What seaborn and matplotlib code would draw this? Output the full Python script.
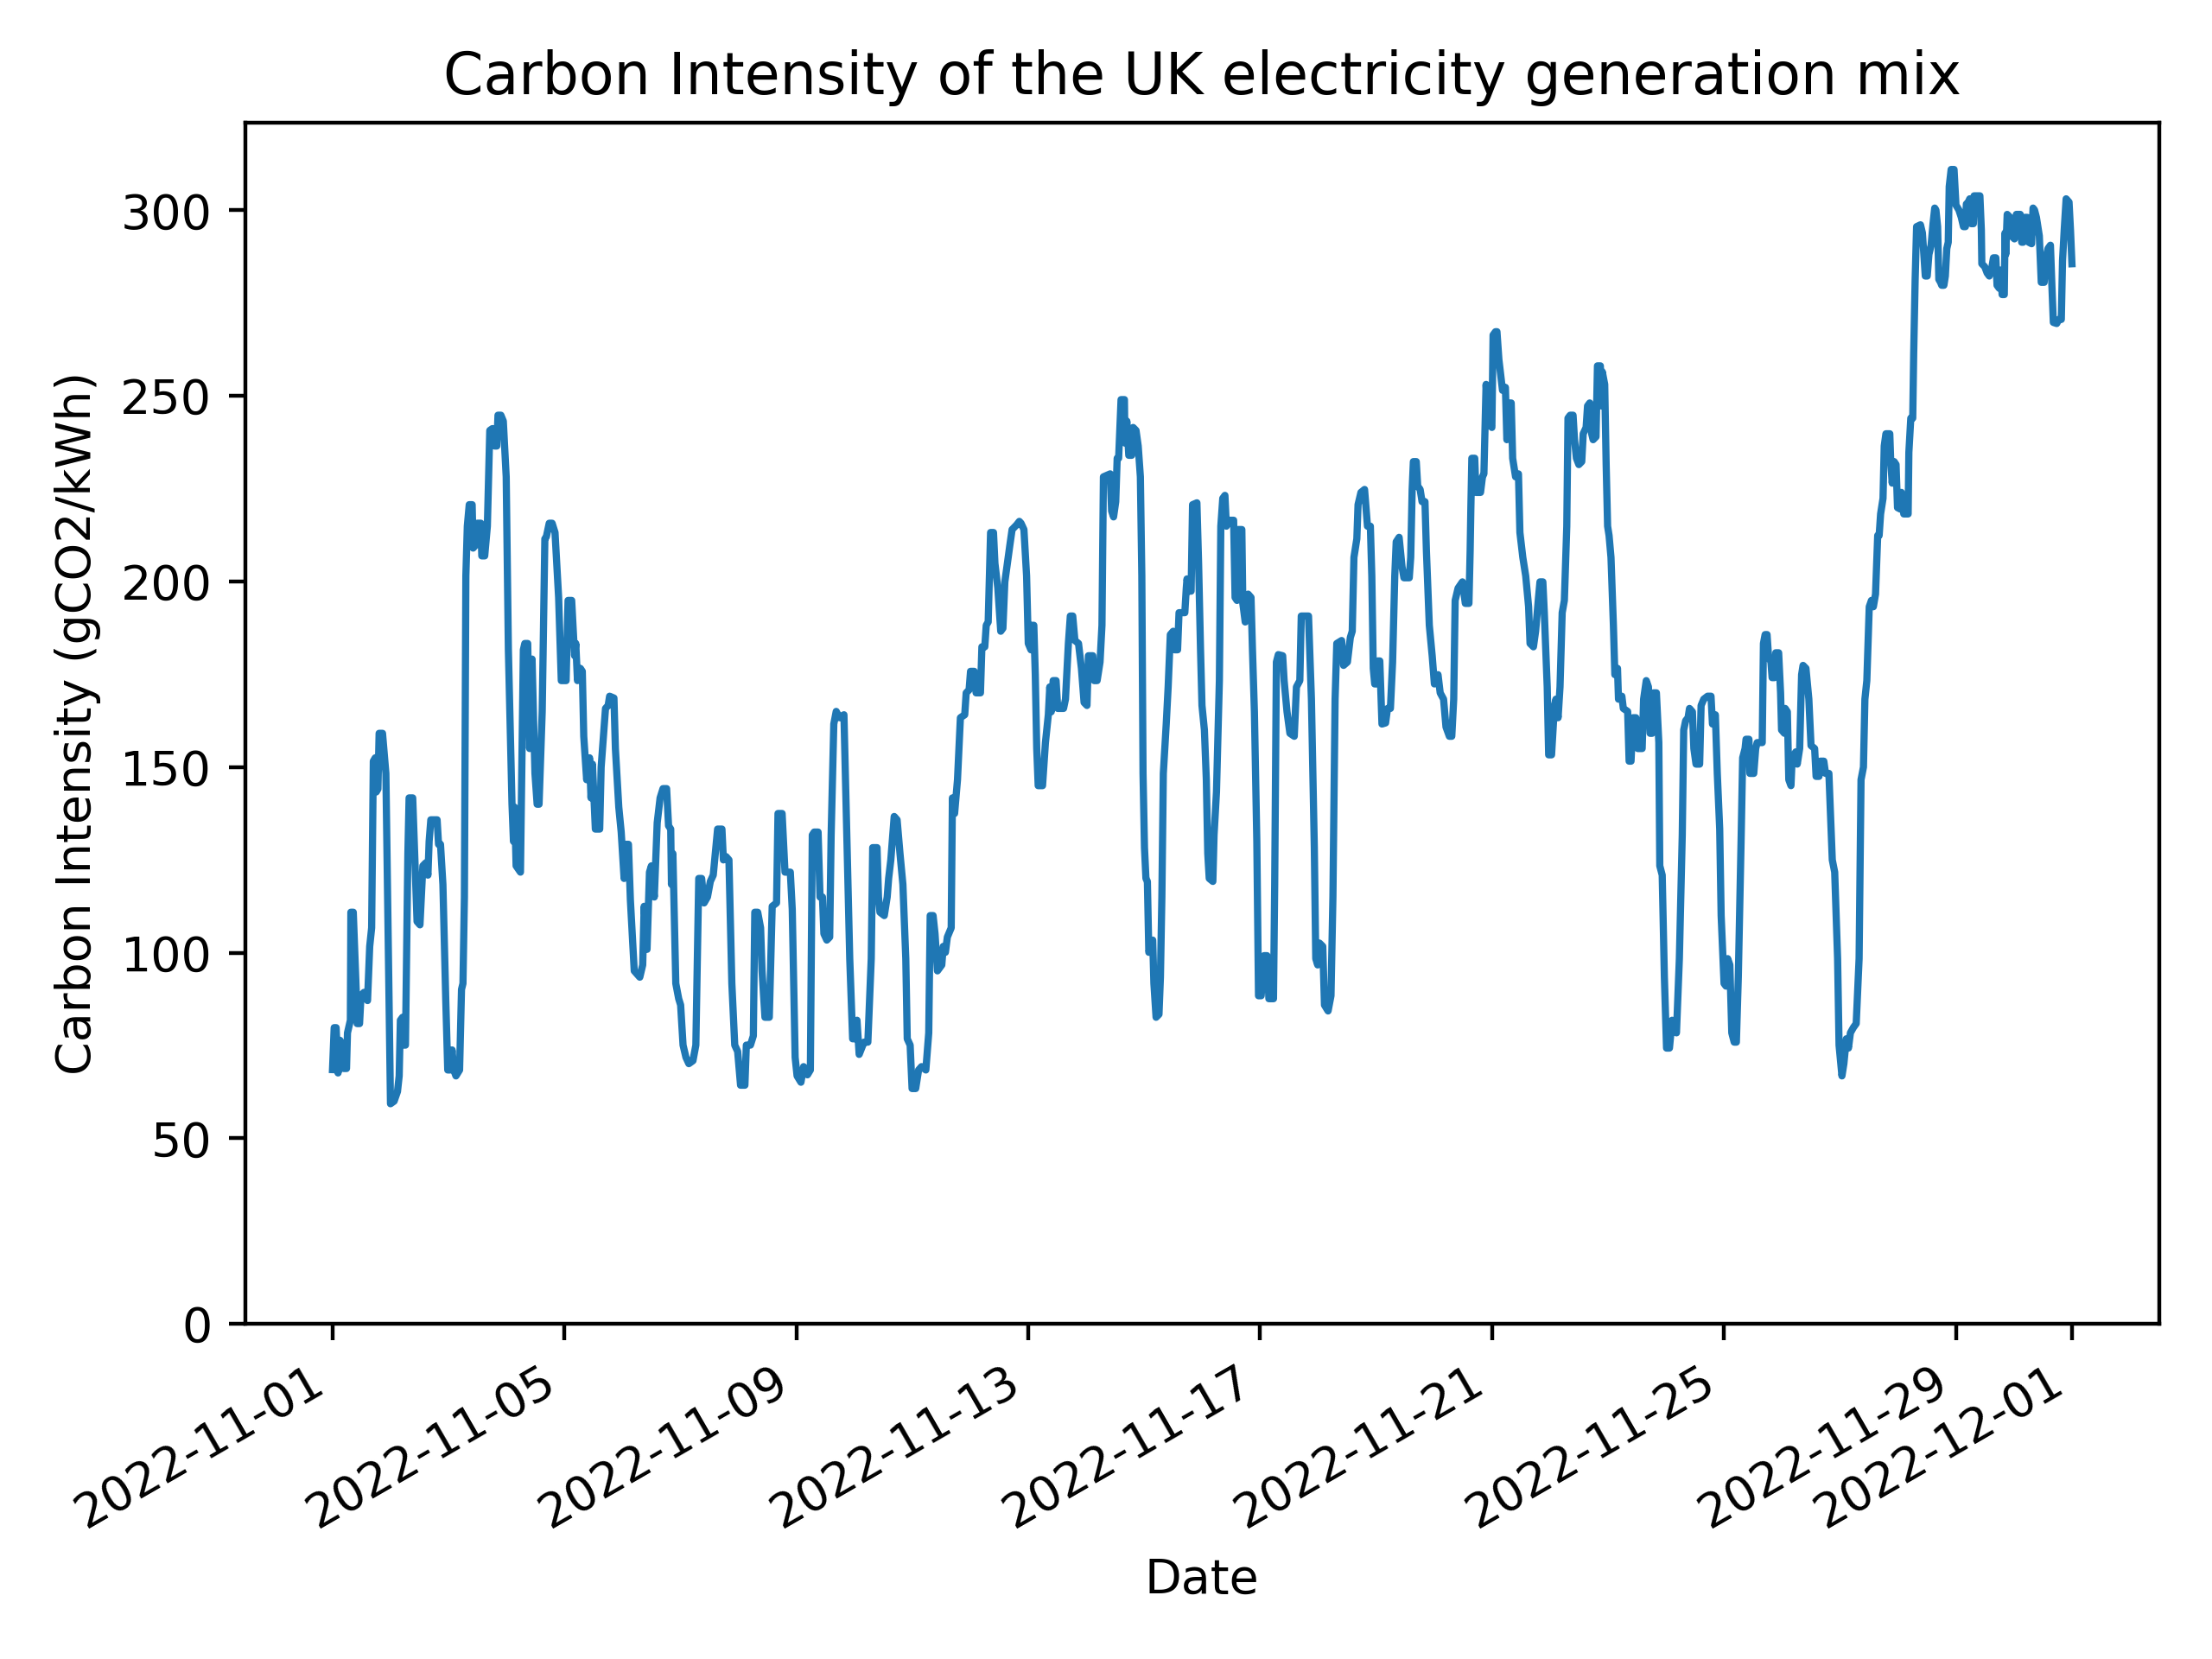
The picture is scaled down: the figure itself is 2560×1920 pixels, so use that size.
import seaborn as sns
import pandas as pd
import numpy as np
import matplotlib.pyplot as plt

# hours since 2022-11-01 00:00 and carbon intensity (gCO2/kWh)
part1_h = [0, 0.7, 1.5, 2.3, 3.1, 4.0, 4.6, 5.8, 6.2, 7.4, 7.6, 8.6, 9.8, 10.2, 11.2, 11.8,
           13.0, 14.5, 15.4, 16.2, 16.9, 17.7, 18.1, 18.8, 19.3, 20.7, 22.1, 24.0, 25.5, 26.9,
           27.6, 28.1, 29.0, 29.6, 30.2, 31.2, 31.7, 33.2, 34.0, 35.0, 36.2, 37.4, 38.6, 39.5,
           40.0, 40.7, 43.3, 43.9, 44.7, 45.7, 46.9, 47.7, 48.7, 49.5, 50.2, 51.1, 52.6, 53.4,
           54.0, 54.6, 55.2, 55.8, 56.6, 57.8, 58.2, 59.4, 59.9, 61.4, 61.8, 63.0, 64.1, 65.1,
           66.2, 67.1, 68.0, 68.5, 69.7, 70.7, 71.9, 72.8, 74.3, 74.9, 75.4, 76.0, 77.8, 79.0,
           79.6, 80.8, 81.6, 82.6, 83.8, 84.7, 85.5, 86.8, 87.9, 88.5, 89.7, 90.9]
part1_ci = [68.5, 79.8, 79.8, 67.6, 76.4, 75.0, 68.8, 68.8, 78.4, 81.8, 110.9, 110.9, 90.1, 80.9,
            80.9, 88.4, 89.3, 87.1, 101.7, 106.7, 151.6, 152.5, 143.3, 144.1, 159.1, 159.1,
            148.3, 59.3, 60.0, 62.6, 66.8, 81.8, 82.6, 75.1, 75.1, 126.7, 141.7, 141.7, 126.7,
            108.4, 107.5, 123.4, 124.2, 120.9, 130.0, 135.8, 135.8, 129.2, 129.2, 118.4, 86.8,
            68.4, 68.4, 73.8, 68.4, 66.8, 68.4, 90.1, 91.7, 115.0, 201.5, 214.9, 220.7, 220.7,
            209.0, 209.9, 215.7, 215.7, 206.9, 206.9, 214.9, 240.7, 241.2, 236.5, 236.5, 244.8,
            244.8, 243.2, 228.2, 181.6, 140.0, 130.0, 139.2, 123.4, 121.7, 181.6, 183.3, 183.3,
            155.0, 179.1, 148.3, 140.0, 140.0, 165.0, 211.5, 212.0, 215.7, 215.7]

part2_h = [92.1, 93.6, 94.7, 96.7, 97.5, 99.0, 100.2, 100.7, 101.4, 102.6, 103.4, 104.0, 105.2,
           106.4, 107.0, 107.6, 108.8, 110.6, 111.2, 113.0, 114.1, 114.7, 116.5, 117.1, 118.5,
           119.5, 120.7, 121.3, 122.5, 123.3, 124.0, 124.9, 127.2, 128.4, 129.0, 130.2, 131.2,
           132.0, 133.2, 134.4, 135.6, 136.8, 138.3, 139.1, 140.0, 140.3, 140.9, 142.1, 143.3,
           144.1, 145.1, 146.3, 147.5, 149.2, 150.4, 151.6, 152.8, 153.8, 155.2, 156.4, 157.6,
           158.2, 159.4, 161.2, 161.8, 162.9, 164.1, 165.3, 166.5, 167.7, 168.9, 170.7, 171.3,
           173.0, 174.2, 174.8, 176.0, 177.2, 177.8, 179.0, 180.8, 182.0, 183.8, 184.4, 186.1,
           187.3]
part2_ci = [213.2, 195.7, 173.3, 173.3, 194.9, 194.9, 180.0, 183.3, 173.3, 176.6, 175.8, 158.3,
            146.6, 152.5, 141.7, 150.8, 133.3, 133.3, 150.0, 165.8, 166.6, 169.1, 168.6, 155.0,
            139.2, 132.5, 120.0, 129.2, 129.2, 114.2, 105.9, 95.1, 93.4, 96.7, 112.5, 100.9,
            121.7, 123.4, 115.0, 135.0, 141.7, 144.2, 144.2, 134.2, 133.3, 118.4, 126.7, 91.7,
            87.6, 85.9, 75.1, 71.8, 70.1, 70.9, 75.1, 120.0, 120.0, 113.4, 115.0, 119.2, 120.9,
            125.0, 133.3, 133.3, 125.0, 125.9, 125.0, 91.7, 75.1, 73.4, 64.3, 64.3, 75.1, 75.1,
            77.6, 110.9, 110.9, 106.7, 95.1, 82.6, 82.6, 112.5, 113.4, 137.5, 137.5, 121.7]

part3_h = [189.5, 190.3, 190.9, 191.5, 192.3, 193.9, 195.0, 196.6, 197.8, 198.6, 199.4, 201.0,
           201.8, 202.8, 203.4, 204.6, 205.8, 206.4, 207.5, 208.5, 209.9, 211.7, 212.9, 214.1,
           215.3, 216.5, 217.1, 218.0, 220.0, 221.6, 223.0, 223.6, 225.4, 226.0, 226.6, 228.4,
           229.6, 230.2, 231.1, 232.5, 233.7, 234.9, 236.1, 237.3, 237.9, 239.1, 239.9, 241.4,
           242.6, 243.8, 245.6, 246.8, 247.4, 248.6, 249.4, 250.4, 252.2, 252.8, 253.7, 254.5,
           256.1, 256.6, 257.5, 258.7, 259.9, 261.7, 262.3, 263.5, 264.1, 265.6, 266.4, 268.2,
           268.8, 270.0, 270.6, 271.4, 272.4, 273.6, 274.2, 275.4, 276.6, 277.5, 278.3, 279.5,
           280.4, 281.3, 283.1, 284.3]
part3_ci = [121.7, 111.7, 91.7, 71.8, 66.8, 65.1, 69.3, 67.1, 68.4, 131.7, 132.5, 132.5, 115.0,
            115.0, 105.1, 103.4, 104.2, 131.7, 161.6, 165.0, 163.3, 164.1, 131.7, 98.4, 76.8,
            76.8, 81.8, 72.6, 75.9, 75.9, 98.4, 128.3, 128.3, 115.0, 110.9, 110.0, 115.0, 120.0,
            125.0, 136.7, 135.8, 126.7, 118.4, 98.4, 76.8, 75.1, 63.4, 63.4, 68.4, 69.3, 68.4,
            78.4, 110.0, 110.0, 105.1, 95.1, 96.7, 101.7, 100.1, 104.2, 106.7, 141.7, 137.5,
            146.6, 163.3, 164.1, 170.0, 170.8, 175.8, 175.8, 170.0, 170.0, 182.4, 182.4, 188.2,
            189.1, 213.2, 213.2, 204.9, 198.2, 186.6, 187.4, 199.9, 205.7, 209.9, 214.0, 215.2,
            216.2]

part4_h = [285.0, 286.2, 287.3, 288.0, 289.1, 289.5, 290.3, 290.9, 291.5, 292.1, 293.9, 295.1,
           296.3, 296.9, 297.5, 298.3, 299.5, 300.2, 302.6, 303.4, 304.6, 305.4, 306.4, 307.3,
           308.8, 310.0, 311.1, 312.3, 312.9, 314.7, 315.3, 316.5, 317.7, 318.5, 319.1, 321.9,
           322.5, 323.3, 324.2, 324.8, 325.4, 326.4, 327.8, 328.0, 328.8, 329.6, 330.8, 331.4,
           332.6, 333.5, 334.4, 335.0, 335.5, 336.1, 336.7, 337.3, 337.9, 339.5, 340.0, 340.9,
           342.1, 342.7, 343.3, 343.9, 345.1, 345.9, 346.8, 348.0, 348.6, 349.8, 350.4, 352.8,
           353.4, 353.7, 354.6, 355.4, 356.0, 357.8, 358.5, 359.3, 359.9, 360.9, 361.7, 362.3,
           362.9, 364.4, 364.9, 365.9, 367.1, 367.7, 368.5, 369.4, 370.0, 371.2, 373.0, 373.6,
           374.4, 374.8, 376.4, 376.8, 377.8, 379.0, 380.2, 380.8, 381.6, 382.6]
part4_ci = [215.7, 214.0, 201.5, 183.3, 181.6, 188.2, 188.2, 174.9, 155.0, 145.0, 145.0, 156.6,
            164.1, 171.6, 164.9, 173.3, 173.3, 165.8, 165.8, 168.3, 183.3, 190.7, 190.7, 184.1,
            183.3, 176.6, 167.4, 166.6, 180.0, 180.0, 173.3, 173.3, 178.3, 188.2, 228.2, 229.0,
            219.0, 217.4, 221.5, 233.2, 233.2, 249.0, 249.0, 237.3, 243.2, 234.0, 234.0, 241.5,
            240.7, 236.5, 228.2, 201.5, 148.3, 128.3, 120.0, 119.2, 100.1, 103.4, 91.7, 82.6,
            83.4, 93.4, 115.0, 148.3, 161.6, 171.6, 185.7, 186.6, 181.6, 181.6, 191.6, 191.6,
            198.2, 200.7, 197.4, 197.4, 220.7, 221.2, 204.9, 181.6, 166.6, 160.0, 146.6, 126.7,
            120.0, 119.2, 131.7, 143.3, 173.3, 214.9, 222.4, 223.2, 214.9, 216.5, 216.5, 195.7,
            194.9, 214.0, 214.0, 194.1, 189.1, 196.6, 195.7, 181.6, 164.9, 130.0]

part5_h = [383.3, 384.4, 385.6, 386.8, 387.6, 389.5, 390.0, 390.7, 391.5, 393.3, 393.9, 395.1,
           396.3, 398.1, 399.0, 400.4, 401.0, 404.0, 405.2, 406.4, 407.0, 407.8, 408.5, 409.9,
           410.6, 412.1, 413.3, 414.1, 415.0, 415.7, 417.7, 418.5, 420.1, 421.3, 422.1, 422.8,
           424.0, 424.5, 425.7, 427.2, 428.4, 429.6, 430.2, 430.8, 431.4, 432.0, 432.6, 433.5,
           434.4, 435.9, 436.7, 437.9, 438.8, 439.7, 440.3, 441.5, 442.7, 443.5, 445.7, 446.3,
           446.9, 447.4, 448.6, 449.2, 450.2, 451.0, 452.2, 452.8, 454.0, 455.2, 456.1, 457.6,
           458.5, 459.9, 460.9, 462.3, 463.3, 464.1, 464.7, 465.9, 467.7, 468.9, 470.4, 470.9,
           471.2, 471.6, 472.8, 473.3, 475.2, 476.0, 476.6, 477.5, 478.4, 479.9, 480.4, 481.4]
part5_ci = [88.4, 88.4, 99.2, 99.2, 87.6, 87.6, 118.4, 178.3, 180.3, 180.0, 173.3, 164.9, 159.1,
            158.3, 171.6, 173.3, 190.7, 190.7, 168.3, 128.3, 98.4, 96.7, 102.6, 101.7, 85.9,
            84.3, 88.4, 115.0, 168.3, 183.3, 184.1, 177.4, 178.3, 184.9, 186.6, 206.5, 211.5,
            220.7, 224.0, 224.8, 214.9, 214.9, 201.5, 176.6, 172.4, 172.4, 178.6, 178.6, 161.6,
            161.9, 165.8, 165.8, 178.3, 201.5, 210.7, 211.9, 204.0, 201.0, 201.0, 206.5, 224.8,
            232.3, 232.3, 225.7, 224.8, 221.5, 221.5, 208.2, 188.2, 179.9, 172.4, 174.9, 170.0,
            168.3, 160.8, 158.3, 158.3, 168.3, 194.9, 198.2, 199.9, 194.1, 194.1, 208.2, 219.9,
            233.2, 233.2, 224.0, 224.0, 228.2, 229.0, 253.1, 243.2, 241.5, 266.4, 267.3]

part6_h = [482.0, 482.8, 484.3, 485.5, 486.1, 486.4, 487.1, 487.9, 488.5, 489.7, 490.9, 491.5,
           492.7, 493.9, 495.1, 495.7, 497.1, 498.0, 499.2, 499.8, 501.0, 501.6, 502.8, 503.4,
           504.6, 505.8, 506.4, 507.3, 508.1, 509.0, 509.9, 510.9, 511.4, 512.3, 513.5, 514.1,
           514.9, 515.9, 517.1, 517.7, 518.9, 519.5, 520.4, 521.2, 521.8, 523.0, 523.6, 524.8,
           525.2, 525.6, 526.6, 527.2, 527.8, 528.4, 529.2, 530.2, 530.8, 531.9, 532.3, 533.7,
           534.3, 536.1, 536.7, 537.5, 538.3, 539.5, 540.3, 542.1, 542.7, 543.8, 544.7, 545.4,
           546.2, 546.8, 548.0, 549.0, 549.4, 550.4, 551.3, 552.2, 553.4, 554.5, 556.3, 557.5,
           558.7, 559.3, 560.1, 561.1, 561.7, 562.9, 563.5, 564.4, 565.9, 566.5, 567.6, 569.2,
           570.6, 571.2, 572.4, 573.2, 574.2]
part6_ci = [267.3, 259.8, 251.5, 252.3, 238.2, 239.0, 248.1, 248.1, 233.2, 228.2, 229.0, 213.2,
            206.5, 201.5, 193.2, 183.3, 182.4, 186.6, 195.7, 199.9, 199.9, 191.6, 171.6, 153.3,
            153.3, 166.6, 168.3, 163.3, 171.6, 191.6, 194.9, 214.9, 244.0, 244.8, 244.8, 238.2,
            233.2, 231.5, 232.3, 239.8, 241.5, 247.3, 248.1, 239.8, 238.2, 239.0, 258.1, 258.1,
            247.3, 256.5, 253.1, 231.5, 214.9, 212.4, 206.5, 188.2, 174.9, 176.6, 168.3, 169.1,
            165.8, 165.0, 151.6, 151.6, 163.3, 163.3, 155.0, 155.0, 168.3, 173.3, 171.6, 159.1,
            159.1, 170.0, 170.0, 156.6, 123.4, 120.9, 93.4, 74.3, 74.3, 81.8, 78.4, 98.4, 131.7,
            160.0, 162.5, 163.3, 165.8, 164.9, 155.0, 150.8, 150.8, 166.6, 168.3, 169.1, 169.1,
            161.6, 164.1, 148.3, 133.3]

part7_h = [574.8, 576.0, 576.8, 577.5, 578.4, 579.2, 580.2, 581.1, 581.9, 583.1, 583.7, 584.7,
           585.1, 586.3, 586.7, 588.3, 589.1, 589.7, 591.8, 592.3, 593.0, 593.8, 594.4, 595.4,
           595.9, 596.8, 597.4, 598.6, 599.4, 599.8, 601.0, 601.3, 602.2, 602.8, 603.7, 604.2,
           605.7, 606.3, 607.3, 608.1, 608.7, 609.9, 611.1, 612.0, 613.5, 614.1, 615.3, 615.9,
           617.3, 618.0, 619.4, 620.8, 621.8, 623.0, 623.6, 624.8, 625.6, 626.6, 627.5, 628.3,
           629.5, 630.7, 631.9, 632.7, 633.7, 634.3, 635.1, 636.1, 637.0, 637.8, 638.7, 639.6,
           640.2, 640.8, 641.8, 642.3, 643.0, 644.6, 645.0, 645.6, 646.4, 647.2, 647.8, 649.0,
           649.4, 650.4, 652.2, 652.5, 653.3, 654.1, 654.5, 655.1, 655.7, 657.3, 658.1, 658.7,
           659.3, 660.1, 660.8, 661.7, 662.5, 663.2, 663.7, 664.4, 664.9, 665.6, 666.1, 667.0,
           667.6, 668.2, 668.8, 669.2, 670.0, 671.2]
part7_ci = [110.0, 91.7, 91.0, 98.4, 96.7, 78.4, 75.9, 75.9, 93.4, 131.7, 152.5, 155.0, 157.5,
            157.5, 148.3, 148.3, 155.0, 156.6, 156.6, 183.3, 185.7, 185.7, 179.9, 178.3, 174.1,
            174.1, 180.8, 180.8, 170.0, 160.0, 159.1, 165.8, 164.9, 146.6, 145.0, 152.5, 154.1,
            150.8, 155.0, 174.9, 177.4, 176.6, 168.3, 155.8, 155.0, 147.5, 147.5, 151.6, 151.6,
            148.3, 148.3, 125.0, 121.7, 98.4, 75.1, 66.8, 70.1, 76.8, 74.3, 78.4, 79.8, 80.9,
            98.4, 146.6, 150.0, 168.3, 173.3, 193.2, 194.9, 193.2, 196.6, 212.4, 212.4, 218.2,
            222.4, 236.5, 239.8, 239.8, 232.3, 226.5, 232.3, 231.5, 219.9, 219.5, 224.0, 218.2,
            218.2, 234.8, 244.0, 244.0, 261.5, 281.4, 295.6, 296.1, 293.9, 288.1, 282.3, 282.3,
            288.1, 290.6, 296.4, 300.6, 300.1, 295.6, 281.4, 280.6, 279.8, 279.8, 282.3, 289.7,
            291.4, 306.4, 311.0, 311.0]

part8_h = [672.0, 673.2, 674.2, 675.1, 675.9, 676.3, 677.1, 677.7, 678.3, 679.2, 679.5, 681.9,
           682.5, 682.7, 683.9, 684.9, 685.8, 686.7, 687.5, 688.5, 689.0, 689.9, 690.6, 691.1,
           692.0, 692.3, 692.6, 693.2, 694.4, 695.0, 696.2, 697.0, 698.6, 699.2, 699.8, 700.6,
           701.5, 702.1, 703.3, 703.9, 704.5, 705.3, 706.5, 707.3, 708.5, 709.3, 710.1, 711.1,
           711.7, 712.3, 713.7, 714.6, 715.6, 716.1, 716.8, 717.6, 718.8, 719.4, 720.0]
part8_ci = [301.4, 300.1, 298.1, 295.6, 295.6, 301.7, 302.2, 303.1, 296.4, 296.4, 303.9, 303.9,
            294.7, 285.6, 284.8, 283.1, 282.3, 284.0, 287.2, 287.2, 279.8, 279.0, 283.9, 277.3,
            277.3, 293.9, 288.1, 298.9, 298.1, 293.1, 292.3, 298.9, 298.9, 291.4, 291.4, 298.1,
            298.1, 291.4, 291.0, 300.6, 300.1, 298.1, 293.1, 280.6, 280.6, 287.2, 289.7, 290.6,
            279.8, 269.8, 269.5, 270.6, 270.6, 286.4, 294.7, 303.1, 302.2, 294.7, 285.6]

hours = np.concatenate([part1_h, part2_h, part3_h, part4_h,
                        part5_h, part6_h, part7_h, part8_h])
intensity = np.concatenate([part1_ci, part2_ci, part3_ci, part4_ci,
                            part5_ci, part6_ci, part7_ci, part8_ci])

df = pd.DataFrame({
    'datetime': pd.Timestamp('2022-11-01') + pd.to_timedelta(hours, unit='h'),
    'intensity': intensity,
})

fig, ax = plt.subplots(figsize=(6.4, 4.8), dpi=400)
sns.lineplot(data=df, x='datetime', y='intensity', ax=ax, color='#1f77b4', linewidth=1.5)
ax.set_ylim(bottom=0)
ax.set_title('Carbon Intensity of the UK electricity generation mix')
ax.set_xlabel('Date')
ax.set_ylabel('Carbon Intensity (gCO2/kWh)')
fig.autofmt_xdate()
fig.subplots_adjust(left=0.111, right=0.976, top=0.926, bottom=0.202)
fig.savefig('out.png', dpi=400)
